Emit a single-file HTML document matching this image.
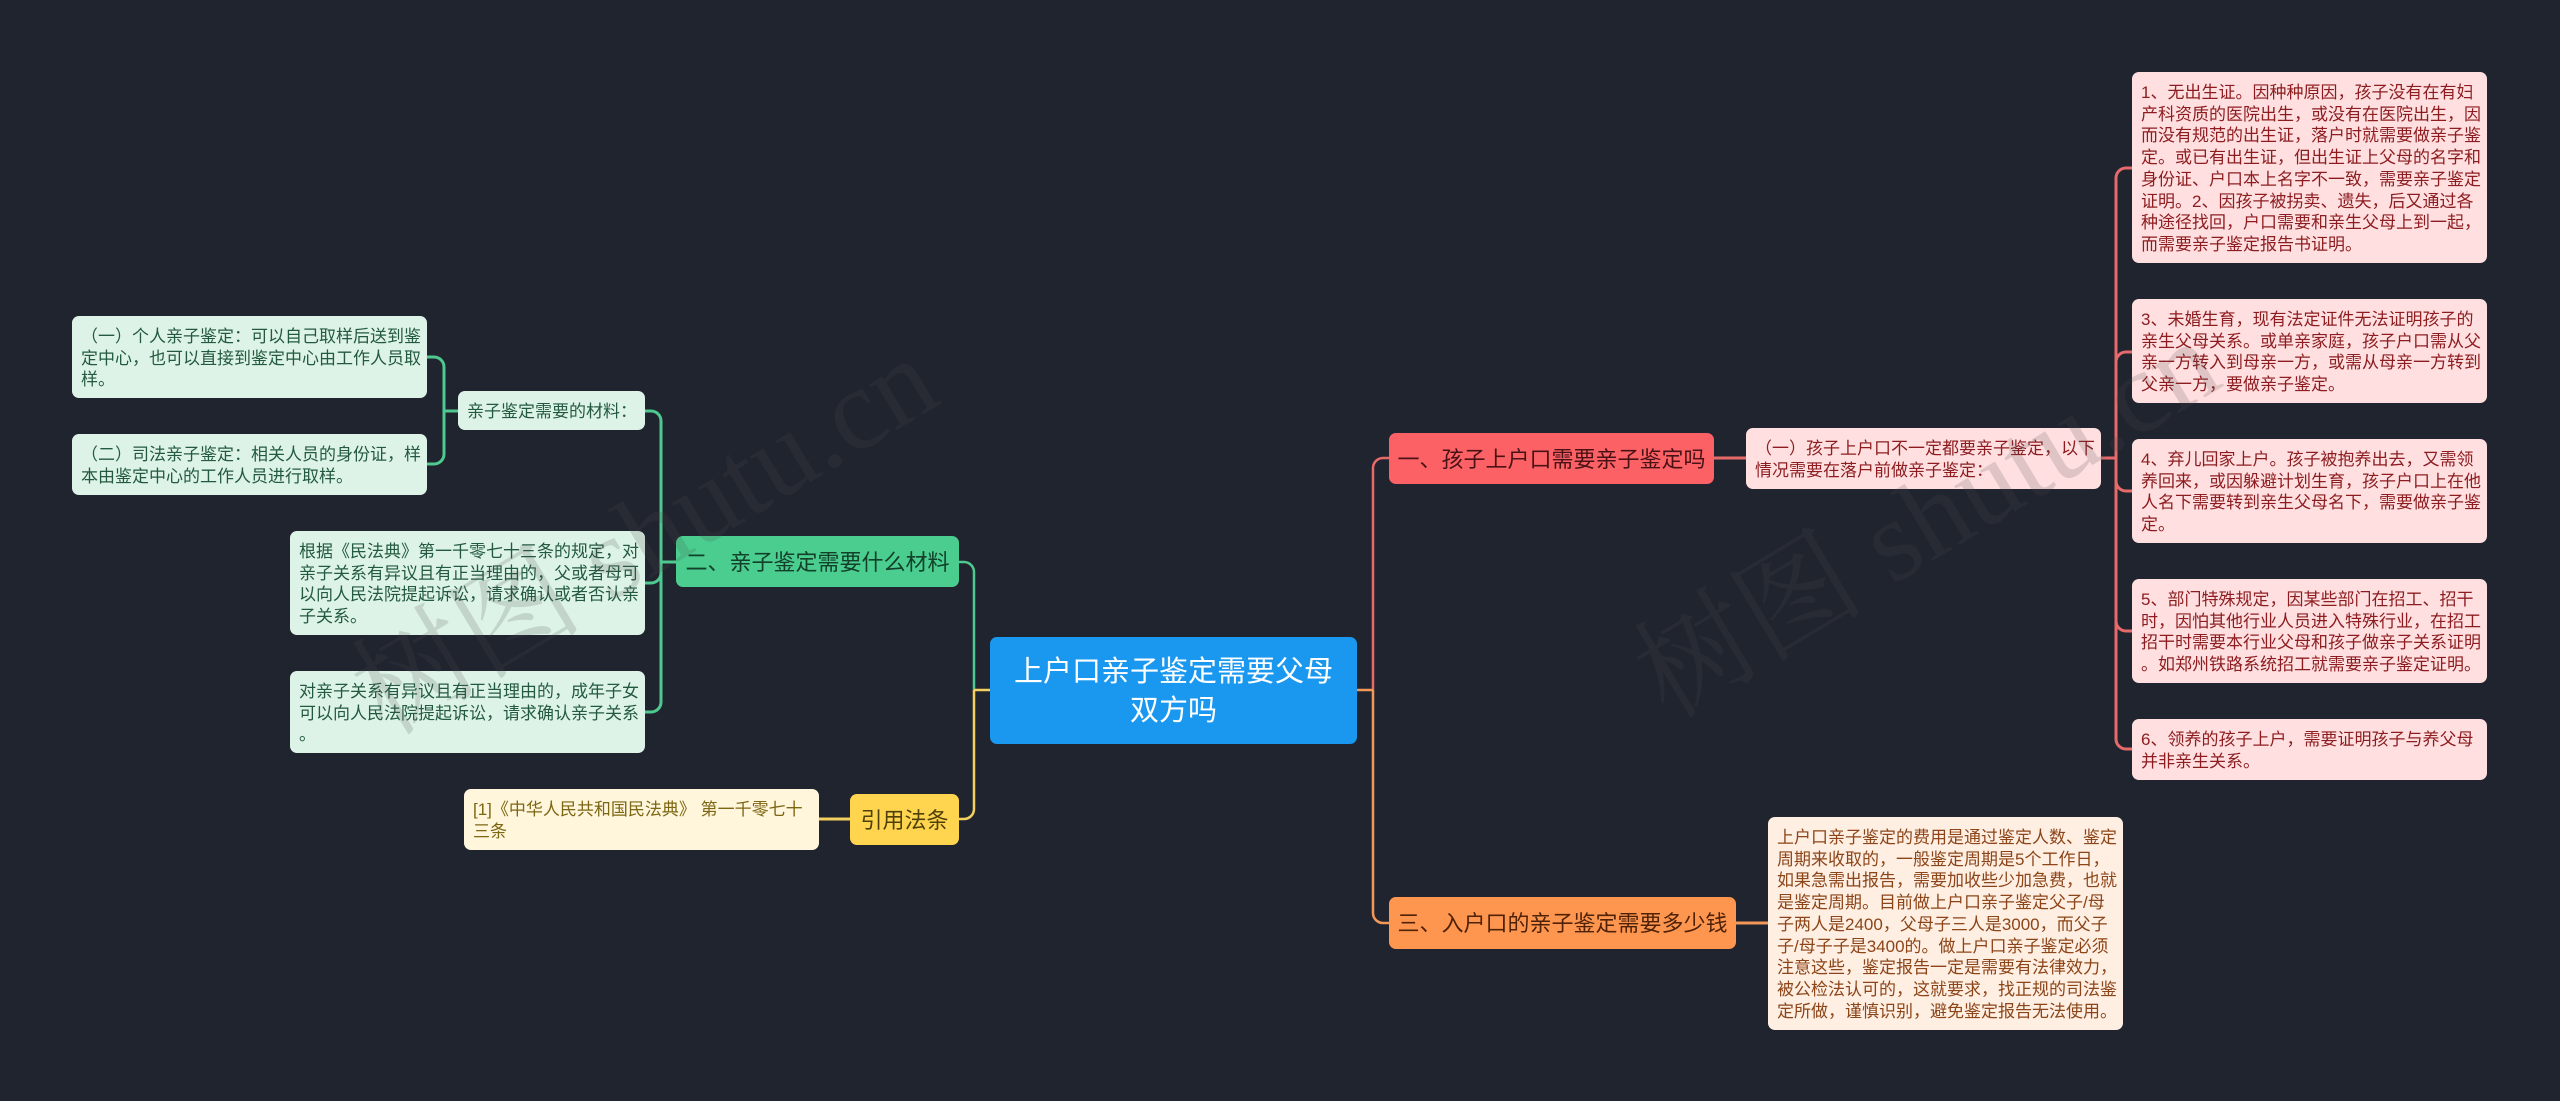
<!DOCTYPE html>
<html lang="zh-CN"><head><meta charset="utf-8"><title>上户口亲子鉴定需要父母双方吗</title>
<style>
html,body{margin:0;padding:0;background:#20242f}
body{width:2560px;height:1101px;position:relative;overflow:hidden;font-family:"Liberation Sans","Noto Sans CJK SC",sans-serif}
.n{position:absolute;box-sizing:border-box;border-radius:7px;white-space:nowrap}
.l{font-size:17px;line-height:21.7px;padding:10px 0 0 9px}
.r{background:#ffdfe0;color:#8c1c1f}
.g{background:#ddf3e7;color:#235a3f}
.y{background:#fff6dc;color:#7d6613}
.o{background:#ffeee2;color:#8c4518}
.b{font-size:22px;line-height:51px;text-align:center;padding-top:1px}
svg{position:absolute;left:0;top:0}
</style></head><body>
<svg width="2560" height="1101" fill="none" stroke-width="2.5">
<g stroke="#e66a6a">
<path d="M1373 690V468a10 10 0 0 1 10-10h6"/>
<path d="M1714 458h32" stroke-width="3"/>
<path d="M2101 458h15" stroke-width="3"/>
<path d="M2116 178a10 10 0 0 1 10-10h6M2116 362a10 10 0 0 1 10-10h6M2116 178V739a10 10 0 0 0 10 10h6M2116 481a10 10 0 0 0 10 10h6M2116 621a10 10 0 0 0 10 10h6" stroke-width="3"/>
</g>
<g stroke="#f2995a">
<path d="M1357 690h16M1373 690V913a10 10 0 0 0 10 10h6"/>
<path d="M1736 923h32" stroke-width="3"/>
</g>
<g stroke="#4ec98f">
<path d="M974 690V572a10 10 0 0 0-10-10h-5"/>
<path d="M676 562h-15" stroke-width="3"/>
<path d="M645 411h6a10 10 0 0 1 10 10V702a10 10 0 0 1-10 10h-6M645 583h6a10 10 0 0 0 10-10" stroke-width="3"/>
<path d="M458 411h-14" stroke-width="3"/>
<path d="M427 357h7a10 10 0 0 1 10 10V454a10 10 0 0 1-10 10h-7" stroke-width="3"/>
</g>
<g stroke="#f4d060">
<path d="M990 690h-16M974 690V809a10 10 0 0 1-10 10h-5"/>
<path d="M850 819h-31" stroke-width="3"/>
</g>
</svg>

<div class="n" style="left:990px;top:637px;width:367px;height:107px;background:#1a98f0;color:#fff;font-size:29px;line-height:39.3px;text-align:center;padding-top:16px">上户口亲子鉴定需要父母<br>双方吗</div>

<div class="n b" style="left:1389px;top:433px;width:325px;height:51px;background:#fc6265;color:#4a1216">一、孩子上户口需要亲子鉴定吗</div>
<div class="n b" style="left:1389px;top:897px;width:347px;height:52px;background:#ff9650;color:#4f2208">三、入户口的亲子鉴定需要多少钱</div>
<div class="n b" style="left:676px;top:536px;width:283px;height:51px;background:#4acd8e;color:#12402a">二、亲子鉴定需要什么材料</div>
<div class="n b" style="left:850px;top:794px;width:109px;height:51px;background:#ffd54f;color:#4f3f08">引用法条</div>

<div class="n l r" style="left:1746px;top:428px;width:355px;height:61px">（一）孩子上户口不一定都要亲子鉴定，以下<br>情况需要在落户前做亲子鉴定：</div>
<div class="n l r" style="left:2132px;top:72px;width:355px;height:191px">1、无出生证。因种种原因，孩子没有在有妇<br>产科资质的医院出生，或没有在医院出生，因<br>而没有规范的出生证，落户时就需要做亲子鉴<br>定。或已有出生证，但出生证上父母的名字和<br>身份证、户口本上名字不一致，需要亲子鉴定<br>证明。2、因孩子被拐卖、遗失，后又通过各<br>种途径找回，户口需要和亲生父母上到一起，<br>而需要亲子鉴定报告书证明。</div>
<div class="n l r" style="left:2132px;top:299px;width:355px;height:104px">3、未婚生育，现有法定证件无法证明孩子的<br>亲生父母关系。或单亲家庭，孩子户口需从父<br>亲一方转入到母亲一方，或需从母亲一方转到<br>父亲一方，要做亲子鉴定。</div>
<div class="n l r" style="left:2132px;top:439px;width:355px;height:104px">4、弃儿回家上户。孩子被抱养出去，又需领<br>养回来，或因躲避计划生育，孩子户口上在他<br>人名下需要转到亲生父母名下，需要做亲子鉴<br>定。</div>
<div class="n l r" style="left:2132px;top:579px;width:355px;height:104px">5、部门特殊规定，因某些部门在招工、招干<br>时，因怕其他行业人员进入特殊行业，在招工<br>招干时需要本行业父母和孩子做亲子关系证明<br>。如郑州铁路系统招工就需要亲子鉴定证明。</div>
<div class="n l r" style="left:2132px;top:719px;width:355px;height:61px">6、领养的孩子上户，需要证明孩子与养父母<br>并非亲生关系。</div>

<div class="n l o" style="left:1768px;top:817px;width:355px;height:213px">上户口亲子鉴定的费用是通过鉴定人数、鉴定<br>周期来收取的，一般鉴定周期是5个工作日，<br>如果急需出报告，需要加收些少加急费，也就<br>是鉴定周期。目前做上户口亲子鉴定父子/母<br>子两人是2400，父母子三人是3000，而父子<br>子/母子子是3400的。做上户口亲子鉴定必须<br>注意这些，鉴定报告一定是需要有法律效力，<br>被公检法认可的，这就要求，找正规的司法鉴<br>定所做，谨慎识别，避免鉴定报告无法使用。</div>

<div class="n l g" style="left:72px;top:316px;width:355px;height:82px">（一）个人亲子鉴定：可以自己取样后送到鉴<br>定中心，也可以直接到鉴定中心由工作人员取<br>样。</div>
<div class="n l g" style="left:72px;top:434px;width:355px;height:61px">（二）司法亲子鉴定：相关人员的身份证，样<br>本由鉴定中心的工作人员进行取样。</div>
<div class="n l g" style="left:458px;top:391px;width:187px;height:39px">亲子鉴定需要的材料：</div>
<div class="n l g" style="left:290px;top:531px;width:355px;height:104px">根据《民法典》第一千零七十三条的规定，对<br>亲子关系有异议且有正当理由的，父或者母可<br>以向人民法院提起诉讼，请求确认或者否认亲<br>子关系。</div>
<div class="n l g" style="left:290px;top:671px;width:355px;height:82px">对亲子关系有异议且有正当理由的，成年子女<br>可以向人民法院提起诉讼，请求确认亲子关系<br>。</div>

<div class="n l y" style="left:464px;top:789px;width:355px;height:61px">[1]《中华人民共和国民法典》 第一千零七十<br>三条</div>

<svg width="2560" height="1101">
<g fill="rgba(76,76,76,.18)" font-family="'Liberation Serif','Noto Serif CJK SC',serif" font-size="116">
<text transform="translate(386 737) rotate(-31)">树图 shutu.cn</text>
<text transform="translate(1668 720) rotate(-31)">树图 shutu.cn</text>
</g>
</svg>
</body></html>
